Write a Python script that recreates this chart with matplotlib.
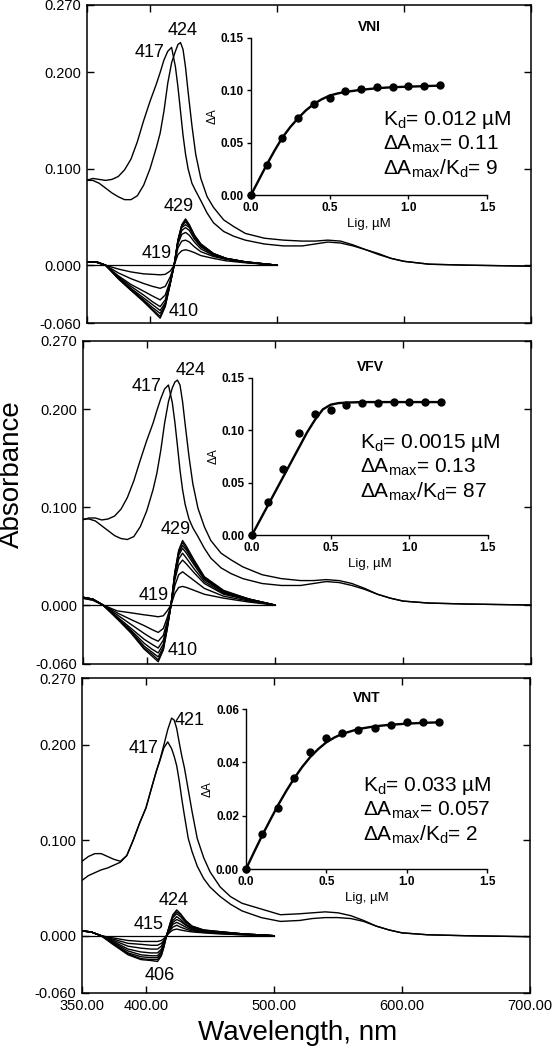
import matplotlib
matplotlib.use('Agg')
import matplotlib.pyplot as plt
from matplotlib.ticker import FormatStrFormatter

plt.rcParams['font.family'] = ['Liberation Sans', 'DejaVu Sans']
plt.rcParams['mathtext.default'] = 'regular'
plt.rcParams['axes.unicode_minus'] = False

# ---- absolute spectra (same wavelength grid for all six curves) ----
wl_abs = [350, 355, 360, 365, 370, 375, 380, 385, 390, 395, 400, 405, 408, 411, 414,
          417, 420, 422, 424, 426, 428, 430, 433, 436, 440, 445, 450, 458, 466, 475,
          490, 505, 520, 530, 540, 550, 560, 570, 580, 590, 600, 620, 650, 700]

vni_417 = [0.088, 0.090, 0.089, 0.088, 0.089, 0.092, 0.099, 0.110, 0.128, 0.150, 0.170, 0.188, 0.200, 0.213, 0.222,
           0.226, 0.206, 0.185, 0.160, 0.135, 0.115, 0.100, 0.085, 0.077, 0.067, 0.054, 0.044, 0.035, 0.030, 0.026,
           0.022, 0.020, 0.020, 0.022, 0.024, 0.023, 0.020, 0.016, 0.012, 0.007, 0.004, 0.001, 0.000, -0.001]
vni_424 = [0.088, 0.088, 0.085, 0.080, 0.075, 0.071, 0.068, 0.068, 0.072, 0.083, 0.100, 0.122, 0.137, 0.160, 0.189,
           0.210, 0.222, 0.229, 0.231, 0.224, 0.205, 0.180, 0.145, 0.115, 0.090, 0.071, 0.060, 0.047, 0.040, 0.033,
           0.028, 0.026, 0.025, 0.025, 0.026, 0.025, 0.021, 0.016, 0.011, 0.007, 0.004, 0.001, 0.000, -0.001]

vfv_417 = [0.087, 0.089, 0.089, 0.087, 0.088, 0.091, 0.098, 0.110, 0.127, 0.148, 0.168, 0.186, 0.199, 0.211, 0.221,
           0.225, 0.207, 0.187, 0.163, 0.138, 0.118, 0.103, 0.088, 0.079, 0.070, 0.058, 0.048, 0.038, 0.032, 0.027,
           0.022, 0.020, 0.020, 0.022, 0.024, 0.023, 0.020, 0.016, 0.011, 0.007, 0.004, 0.002, 0.001, 0.000]
vfv_424 = [0.088, 0.088, 0.086, 0.081, 0.076, 0.071, 0.068, 0.067, 0.070, 0.080, 0.096, 0.118, 0.135, 0.158, 0.186,
           0.208, 0.222, 0.228, 0.230, 0.225, 0.208, 0.185, 0.152, 0.124, 0.099, 0.080, 0.066, 0.053, 0.046, 0.039,
           0.031, 0.027, 0.025, 0.025, 0.026, 0.025, 0.022, 0.017, 0.011, 0.007, 0.004, 0.002, 0.001, 0.000]

vnt_417 = [0.078, 0.083, 0.086, 0.086, 0.083, 0.080, 0.078, 0.084, 0.100, 0.118, 0.134, 0.158, 0.172, 0.184, 0.197,
           0.203, 0.196, 0.188, 0.178, 0.162, 0.143, 0.126, 0.102, 0.088, 0.073, 0.060, 0.051, 0.041, 0.033, 0.026,
           0.019, 0.015, 0.016, 0.018, 0.019, 0.019, 0.018, 0.015, 0.010, 0.006, 0.003, 0.001, 0.000, -0.001]
vnt_421 = [0.058, 0.063, 0.066, 0.069, 0.071, 0.074, 0.077, 0.084, 0.100, 0.118, 0.134, 0.158, 0.172, 0.185, 0.200,
           0.216, 0.228, 0.226, 0.217, 0.202, 0.188, 0.176, 0.153, 0.130, 0.102, 0.082, 0.067, 0.051, 0.041, 0.034,
           0.028, 0.022, 0.023, 0.024, 0.025, 0.024, 0.021, 0.016, 0.010, 0.006, 0.003, 0.001, 0.000, -0.001]

# ---- difference spectra (titration steps) ----
wl_diff_vni = [350, 358, 365, 375, 385, 395, 402, 408, 412, 416, 419, 422, 425, 428, 431, 435, 440, 450, 460, 475, 500]
diff_vni = [
    [0.003, 0.003, 0.0, -0.004, -0.007, -0.009, -0.0095, -0.010, -0.0095, -0.006, 0.0, 0.011, 0.015, 0.016, 0.015, 0.013, 0.010, 0.007, 0.0045, 0.0025, 0.0],
    [0.003, 0.003, 0.0, -0.008, -0.014, -0.019, -0.022, -0.024, -0.022, -0.012, 0.0, 0.018, 0.025, 0.026, 0.024, 0.019, 0.014, 0.009, 0.006, 0.003, 0.0],
    [0.003, 0.003, 0.0, -0.011, -0.020, -0.027, -0.032, -0.036, -0.031, -0.016, 0.0, 0.022, 0.032, 0.034, 0.031, 0.024, 0.017, 0.010, 0.0065, 0.003, 0.0],
    [0.003, 0.003, 0.0, -0.012, -0.022, -0.031, -0.038, -0.043, -0.036, -0.017, 0.0, 0.024, 0.036, 0.039, 0.036, 0.027, 0.019, 0.011, 0.0065, 0.003, 0.0],
    [0.0035, 0.003, 0.0, -0.013, -0.024, -0.034, -0.041, -0.047, -0.039, -0.018, 0.0, 0.025, 0.039, 0.042, 0.039, 0.029, 0.020, 0.011, 0.007, 0.0035, 0.0],
    [0.0035, 0.0035, 0.0, -0.013, -0.025, -0.036, -0.044, -0.050, -0.041, -0.018, 0.0, 0.025, 0.040, 0.045, 0.040, 0.030, 0.021, 0.012, 0.007, 0.0035, 0.0],
    [0.0035, 0.0035, 0.0, -0.014, -0.026, -0.037, -0.046, -0.053, -0.042, -0.019, 0.0, 0.026, 0.041, 0.047, 0.041, 0.031, 0.022, 0.012, 0.007, 0.0035, 0.0],
    [0.0035, 0.0035, 0.0, -0.014, -0.026, -0.038, -0.047, -0.055, -0.043, -0.019, 0.0, 0.026, 0.042, 0.048, 0.042, 0.031, 0.022, 0.012, 0.007, 0.0035, 0.0],
]

wl_diff_vfv = [350, 358, 366, 377, 388, 398, 404, 409, 413, 416, 419, 422, 425, 428, 431, 437, 445, 460, 480, 500]
diff_vfv = [
    [0.007, 0.005, 0.0, -0.006, -0.008, -0.010, -0.011, -0.012, -0.011, -0.006, 0.0, 0.012, 0.018, 0.019, 0.018, 0.015, 0.011, 0.007, 0.003, 0.0],
    [0.007, 0.005, 0.0, -0.008, -0.015, -0.021, -0.025, -0.028, -0.024, -0.013, 0.0, 0.020, 0.031, 0.034, 0.031, 0.025, 0.017, 0.009, 0.004, 0.0],
    [0.008, 0.006, 0.0, -0.010, -0.020, -0.029, -0.034, -0.037, -0.031, -0.017, 0.0, 0.026, 0.041, 0.046, 0.042, 0.033, 0.022, 0.011, 0.005, 0.0],
    [0.008, 0.006, 0.0, -0.012, -0.024, -0.035, -0.040, -0.044, -0.036, -0.020, 0.0, 0.029, 0.047, 0.053, 0.048, 0.037, 0.024, 0.012, 0.005, 0.0],
    [0.008, 0.006, 0.0, -0.013, -0.026, -0.039, -0.045, -0.049, -0.040, -0.022, 0.0, 0.031, 0.051, 0.058, 0.053, 0.041, 0.026, 0.013, 0.006, 0.0],
    [0.008, 0.006, 0.0, -0.013, -0.027, -0.042, -0.048, -0.053, -0.043, -0.023, 0.0, 0.032, 0.053, 0.061, 0.056, 0.043, 0.027, 0.014, 0.006, 0.0],
    [0.008, 0.006, 0.0, -0.014, -0.028, -0.044, -0.050, -0.056, -0.045, -0.024, 0.0, 0.033, 0.055, 0.064, 0.058, 0.045, 0.028, 0.014, 0.006, 0.0],
    [0.008, 0.006, 0.0, -0.014, -0.029, -0.045, -0.052, -0.058, -0.046, -0.025, 0.0, 0.034, 0.056, 0.066, 0.060, 0.046, 0.029, 0.015, 0.006, 0.0],
]

wl_diff_vnt = [350, 357, 365, 373, 386, 396, 404, 409, 412, 414, 416, 419, 421, 424, 427, 431, 436, 445, 456, 475, 500]
diff_vnt = [
    [0.005, 0.004, 0.0, -0.002, -0.005, -0.006, -0.006, -0.006, -0.005, -0.003, 0.0, 0.004, 0.006, 0.007, 0.006, 0.005, 0.004, 0.003, 0.002, 0.001, 0.0],
    [0.005, 0.004, 0.0, -0.003, -0.008, -0.009, -0.010, -0.010, -0.008, -0.005, 0.0, 0.006, 0.009, 0.011, 0.009, 0.007, 0.005, 0.0035, 0.0025, 0.001, 0.0],
    [0.005, 0.004, 0.0, -0.004, -0.011, -0.013, -0.014, -0.014, -0.011, -0.006, 0.0, 0.007, 0.012, 0.014, 0.012, 0.009, 0.006, 0.004, 0.003, 0.0015, 0.0],
    [0.005, 0.004, 0.0, -0.005, -0.014, -0.017, -0.018, -0.018, -0.014, -0.008, 0.0, 0.009, 0.014, 0.017, 0.015, 0.011, 0.007, 0.0045, 0.0035, 0.0015, 0.0],
    [0.005, 0.004, 0.0, -0.006, -0.016, -0.020, -0.021, -0.021, -0.016, -0.009, 0.0, 0.010, 0.016, 0.020, 0.017, 0.012, 0.008, 0.005, 0.004, 0.002, 0.0],
    [0.005, 0.004, 0.0, -0.007, -0.018, -0.022, -0.023, -0.023, -0.018, -0.010, 0.0, 0.012, 0.019, 0.023, 0.020, 0.014, 0.009, 0.0055, 0.004, 0.002, 0.0],
    [0.005, 0.004, 0.0, -0.007, -0.019, -0.024, -0.025, -0.025, -0.020, -0.011, 0.0, 0.013, 0.021, 0.025, 0.022, 0.015, 0.010, 0.006, 0.0045, 0.002, 0.0],
    [0.005, 0.004, 0.0, -0.008, -0.020, -0.025, -0.026, -0.027, -0.021, -0.012, 0.0, 0.014, 0.022, 0.027, 0.023, 0.016, 0.010, 0.006, 0.0045, 0.002, 0.0],
]

baseline_wl = [350, 500]
baseline = [0.0, 0.0]

# ---- titration insets ----
lig = [0.0, 0.1, 0.2, 0.3, 0.4, 0.5, 0.6, 0.7, 0.8, 0.9, 1.0, 1.1, 1.2]
dA_vni = [0.0, 0.029, 0.054, 0.074, 0.087, 0.093, 0.099, 0.101, 0.103, 0.103, 0.104, 0.104, 0.105]
dA_vfv = [0.0, 0.032, 0.063, 0.097, 0.116, 0.119, 0.124, 0.126, 0.126, 0.127, 0.127, 0.127, 0.127]
dA_vnt = [0.0, 0.013, 0.023, 0.034, 0.044, 0.049, 0.051, 0.052, 0.053, 0.054, 0.055, 0.055, 0.055]

lig_fit = [0.0, 0.05, 0.1, 0.15, 0.2, 0.25, 0.3, 0.35, 0.4, 0.45, 0.5, 0.55, 0.6, 0.7, 0.8, 0.9, 1.0, 1.1, 1.2]
fit_vni = [0.0, 0.0145, 0.029, 0.0425, 0.055, 0.065, 0.0735, 0.081, 0.087, 0.0915, 0.095, 0.097, 0.0985,
           0.1005, 0.102, 0.103, 0.1035, 0.104, 0.1045]
fit_vfv = [0.0, 0.014, 0.028, 0.042, 0.056, 0.070, 0.084, 0.098, 0.110, 0.120, 0.1245, 0.126, 0.1265,
           0.127, 0.127, 0.127, 0.127, 0.127, 0.127]
fit_vnt = [0.0, 0.0063, 0.0125, 0.0183, 0.024, 0.0292, 0.034, 0.0383, 0.042, 0.045, 0.0475, 0.0493, 0.0507,
           0.0525, 0.0535, 0.0541, 0.0545, 0.0548, 0.055]

W, H = 552, 1050


def rect(left, top, right, bottom):
    # pixel box -> figure fraction
    return [left / W, 1 - bottom / H, (right - left) / W, (bottom - top) / H]


def draw_spectra(fig, box, abs_curves, diff_wl, diffs, peaks, bottom_labels):
    ax = fig.add_axes(box)
    for curve in abs_curves:
        ax.plot(wl_abs, curve, color='black', lw=1.0)
    for curve in diffs:
        ax.plot(diff_wl, curve, color='black', lw=1.0)
    ax.plot(baseline_wl, baseline, color='black', lw=0.9)
    for txt, x, y in peaks:
        ax.text(x, y, txt, fontsize=13, ha='center', va='center')
    ax.set_xlim(350, 700)
    ax.set_ylim(-0.06, 0.27)
    ax.set_xticks([350, 400, 500, 600, 700])
    ax.set_yticks([-0.06, 0.0, 0.1, 0.2, 0.27])
    ax.xaxis.set_major_formatter(FormatStrFormatter('%.2f'))
    ax.yaxis.set_major_formatter(FormatStrFormatter('%.3f'))
    ax.tick_params(direction='in', top=True, right=True, length=5, width=1,
                   labelsize=10.5, labelbottom=bottom_labels, pad=4)
    for s in ax.spines.values():
        s.set_linewidth(1.1)
    return ax


def draw_inset(fig, box, title, y, fit, ymax, yticks, text_xy, lines):
    ax = fig.add_axes(box)
    ax.set_facecolor('none')
    ax.plot(lig_fit, fit, color='black', lw=1.7)
    ax.plot(lig, y, 'o', color='black', ms=5, clip_on=False)
    ax.set_xlim(0, 1.5)
    ax.set_ylim(0, ymax)
    ax.set_xticks([0.0, 0.5, 1.0, 1.5])
    ax.set_yticks(yticks)
    ax.xaxis.set_major_formatter(FormatStrFormatter('%.1f'))
    ax.yaxis.set_major_formatter(FormatStrFormatter('%.2f'))
    ax.spines['top'].set_visible(False)
    ax.spines['right'].set_visible(False)
    ax.spines['left'].set_linewidth(1.0)
    ax.spines['bottom'].set_linewidth(1.0)
    ax.tick_params(direction='out', length=3, width=1, labelsize=8.5, pad=2)
    plt.setp(ax.get_xticklabels() + ax.get_yticklabels(), fontweight='bold')
    ax.set_xlabel('Lig, µM', fontsize=9.5, labelpad=3)
    ax.set_ylabel('ΔA', fontsize=8.5, labelpad=2)
    ax.set_title(title, fontsize=10, fontweight='bold', pad=5)
    x0, y0 = text_xy
    for i, line in enumerate(lines):
        fig.text(x0 / W, 1 - (y0 + 24.5 * i) / H, line, fontsize=15, va='center', ha='left')
    return ax


def main():
    fig = plt.figure(figsize=(W / 100, H / 100), dpi=100)

    draw_spectra(fig, rect(86.5, 5, 531, 323), [vni_417, vni_424], wl_diff_vni, diff_vni,
                 [('424', 425.7, 0.244), ('417', 400, 0.2205), ('429', 422.3, 0.0607),
                  ('419', 405.3, 0.0123), ('410', 426.2, -0.0483)], False)
    draw_inset(fig, rect(251, 38, 487, 195), 'VNI', dA_vni, fit_vni, 0.15, [0, 0.05, 0.10, 0.15],
               (383, 120), ['K$_d$= 0.012 µM', 'ΔA$_{max}$= 0.11', 'ΔA$_{max}$/K$_d$= 9'])

    draw_spectra(fig, rect(82.5, 341, 531.5, 663.7), [vfv_417, vfv_424], wl_diff_vfv, diff_vfv,
                 [('424', 434.3, 0.2394), ('417', 400, 0.223), ('429', 422.9, 0.0773),
                  ('419', 405.7, 0.010), ('410', 428.1, -0.0469)], False)
    draw_inset(fig, rect(252, 378, 488, 535), 'VFV', dA_vfv, fit_vfv, 0.15, [0, 0.05, 0.10, 0.15],
               (360, 443), ['K$_d$= 0.0015 µM', 'ΔA$_{max}$= 0.13', 'ΔA$_{max}$/K$_d$= 87'])

    draw_spectra(fig, rect(82, 678, 530, 993), [vnt_417, vnt_421], wl_diff_vnt, diff_vnt,
                 [('421', 434.4, 0.2253), ('417', 397.9, 0.1964), ('424', 421.3, 0.0368),
                  ('415', 401.8, 0.012), ('406', 410.4, -0.042)], True)
    draw_inset(fig, rect(246, 709, 487, 869), 'VNT', dA_vnt, fit_vnt, 0.06, [0, 0.02, 0.04, 0.06],
               (363, 786), ['K$_d$= 0.033 µM', 'ΔA$_{max}$= 0.057', 'ΔA$_{max}$/K$_d$= 2'])

    fig.text(12 / W, 1 - 474 / H, 'Absorbance', fontsize=20, rotation=90, ha='center', va='center')
    fig.text(298 / W, 1 - 1033 / H, 'Wavelength, nm', fontsize=20, ha='center', va='center')

    fig.savefig('out.png', dpi=100)


if __name__ == "__main__":
    main()
